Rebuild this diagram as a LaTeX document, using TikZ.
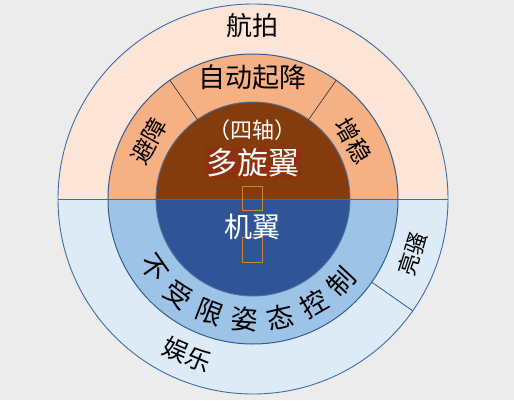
\documentclass[tikz,border=0pt]{standalone}
\usepackage{fontspec}
\setmainfont{Noto Sans CJK SC}
\usepackage{tikz}
\definecolor{DroneBack}{HTML}{ECECEC}
\definecolor{PeachOuter}{HTML}{FCE4D6}
\definecolor{OrangeMid}{HTML}{F5B084}
\definecolor{BrownCore}{HTML}{843C0C}
\definecolor{BrownGlow}{HTML}{8F300E}
\definecolor{BlueOuter}{HTML}{DDEBF7}
\definecolor{BlueMid}{HTML}{9DC3E6}
\definecolor{BlueCore}{HTML}{2F5597}
\definecolor{RingEdge}{HTML}{3A6DA8}
\definecolor{DividerInk}{HTML}{2B2B2B}
\definecolor{StrayBox}{HTML}{C9862F}

\begin{document}
\begin{tikzpicture}[x=1pt,y=1pt,
  ringtext/.style={text=black,inner sep=0pt},
  coretext/.style={text=white,inner sep=0pt}]
  \useasboundingbox[fill=DroneBack] (-253,-201) rectangle (261,199);
  % upper half: multirotor
  \fill[PeachOuter] (195,0) arc[start angle=0,end angle=180,radius=195] -- cycle;
  \fill[OrangeMid] (145,0) arc[start angle=0,end angle=180,radius=145] -- cycle;
  \fill[BrownCore] (97,0) arc[start angle=0,end angle=180,radius=97] -- cycle;
  % lower half: fixed wing
  \fill[BlueOuter] (195,0) arc[start angle=0,end angle=-180,radius=195] -- cycle;
  \fill[BlueMid] (145,0) arc[start angle=0,end angle=-180,radius=145] -- cycle;
  \fill[BlueCore] (97,0) arc[start angle=0,end angle=-180,radius=97] -- cycle;
  % outlines
  \draw[RingEdge,line width=0.9pt] (0,0) circle[radius=195];
  \draw[RingEdge!85!black,line width=1pt] (0,0) circle[radius=145];
  \draw[RingEdge!70!gray,line width=0.9pt] (0,0) circle[radius=97];
  \draw[RingEdge,line width=0.8pt] (-195,0) -- (195,0);
  \draw[DividerInk,line width=0.6pt] (55:97) -- (55:145);
  \draw[DividerInk,line width=0.6pt] (125:97) -- (125:145);
  \draw[RingEdge!80!black,line width=0.8pt] (-35:145) -- (-35:195);
  % leftover boxes
  \draw[StrayBox,line width=0.9pt] (-11,-11) rectangle (9,13);
  \draw[StrayBox,line width=0.9pt] (-11,-63) rectangle (9,-38);
  % labels
  \node[ringtext,font=\fontsize{26}{26}\selectfont] (aerial) at (90:173) {航拍};
  \node[ringtext,font=\fontsize{27}{27}\selectfont] (takeoff) at (90:122) {自动起降};
  \node[ringtext,font=\fontsize{24}{24}\selectfont,rotate=61] (avoid) at (151:119) {避障};
  \node[ringtext,font=\fontsize{24}{24}\selectfont,rotate=-60] (steady) at (30:116) {增稳};
  \node[coretext,font=\fontsize{22}{22}\selectfont] (quad) at (0,69) {（四轴）};
  \node[coretext,fill=BrownGlow,inner sep=1pt,font=\fontsize{31}{31}\selectfont] (rotor) at (0,36) {多旋翼};
  \node[coretext,font=\fontsize{28}{28}\selectfont] (wing) at (0,-28) {机翼};
  \foreach \ch [count=\i from 0] in {不,受,限,姿,态,控,制}
    \node[ringtext,font=\fontsize{27}{27}\selectfont,rotate=-55+17*\i]
      (attitude\i) at ({-145+17*\i}:121) {\ch};
  \node[ringtext,font=\fontsize{25}{25}\selectfont,rotate=-23] (fun) at (-113:169) {娱乐};
  \node[ringtext,font=\fontsize{22}{22}\selectfont,rotate=72] (show) at (-19:169) {亮骚};
\end{tikzpicture}
\end{document}
